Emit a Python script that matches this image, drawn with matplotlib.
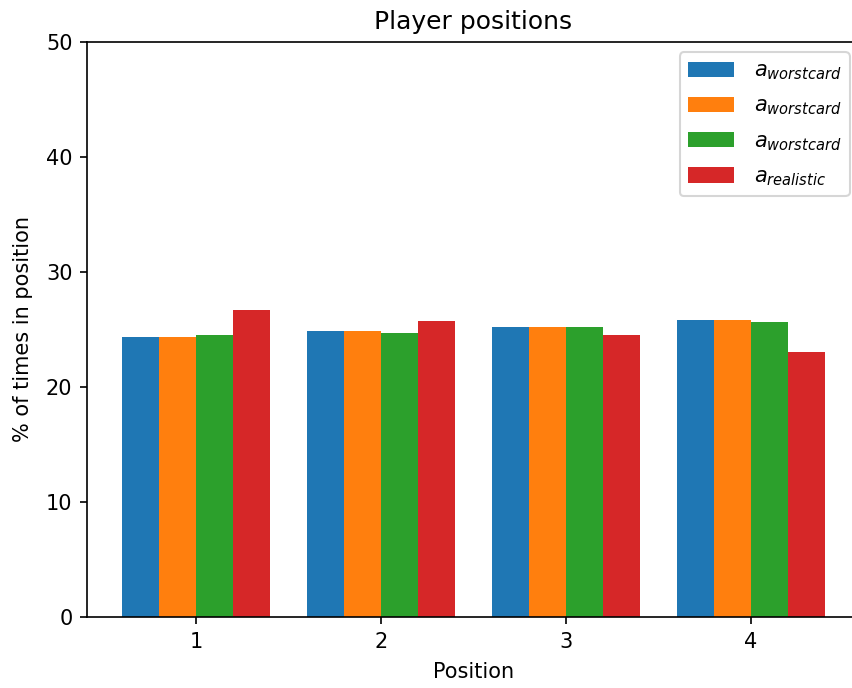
import matplotlib
matplotlib.use("Agg")
import matplotlib.pyplot as plt
import numpy as np

positions = [1, 2, 3, 4]
worst1 = [24.37, 24.84, 25.22, 25.80]
worst2 = [24.37, 24.84, 25.22, 25.80]
worst3 = [24.55, 24.67, 25.22, 25.63]
realistic = [26.72, 25.77, 24.55, 23.02]
labels = [r"$a_{worstcard}$", r"$a_{worstcard}$", r"$a_{worstcard}$", r"$a_{realistic}$"]
colors = ["#1f77b4", "#ff7f0e", "#2ca02c", "#d62728"]

DPI = 150
fig = plt.figure(figsize=(852/DPI, 688/DPI), dpi=DPI)
ax = fig.add_axes([87/852, 71/688, 773/852, 575/688])
x = np.array(positions, dtype=float)
w = 0.2
series = [worst1, worst2, worst3, realistic]
for i, (vals, lab, c) in enumerate(zip(series, labels, colors)):
    ax.bar(x + (i - 1.5) * w, vals, width=w, label=lab, color=c)
ax.set_xticks(positions)
ax.set_ylim(0, 50)
ax.set_xlim(0.41, 4.59)
ax.set_xlabel("Position", labelpad=5)
ax.set_ylabel("% of times in position", labelpad=6)
ax.set_title("Player positions")
ax.legend(loc="upper right", labelspacing=0.65, handlelength=2.2,
          handletextpad=0.95, handleheight=0.75)
fig.savefig("out.png", dpi=DPI)
